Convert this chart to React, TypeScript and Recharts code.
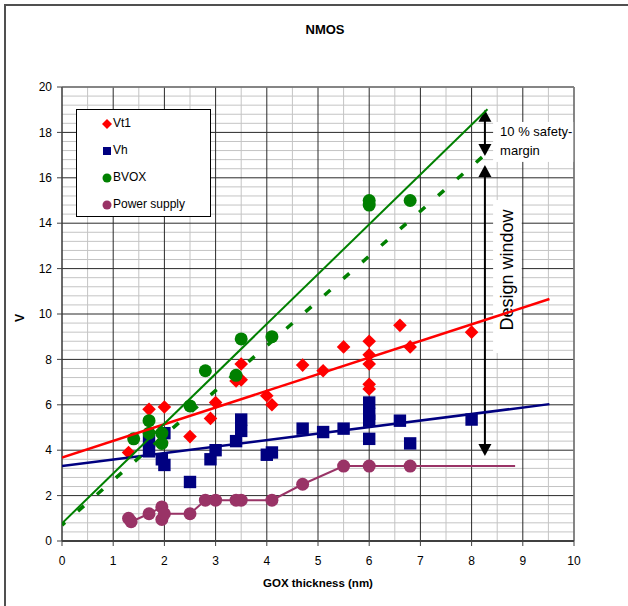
import React from 'react';
import {
  ComposedChart,
  Scatter,
  XAxis,
  YAxis,
  CartesianGrid,
  ReferenceArea,
  ReferenceLine,
  Legend,
} from 'recharts';

const FONT = '"Liberation Sans", Arial, Helvetica, sans-serif';

// ---------- tick labels ----------
const xTicks = [0, 1, 2, 3, 4, 5, 6, 7, 8, 9, 10];
const yTicks = [0, 2, 4, 6, 8, 10, 12, 14, 16, 18, 20];
const xMinor = [0.5, 1.5, 2.5, 3.5, 4.5, 5.5, 6.5, 7.5, 8.5, 9.5];
const yMinor = Array.from({ length: 50 }, (_, i) => +(i * 0.4).toFixed(1)).filter(
  (v) => Math.abs(v / 2 - Math.round(v / 2)) > 1e-6
);

// ---------- series ----------
const vt1 = [
  { x: 1.3, y: 3.9 }, { x: 1.7, y: 5.8 }, { x: 2.0, y: 5.9 }, { x: 1.95, y: 4.35 },
  { x: 2.5, y: 4.6 }, { x: 2.9, y: 5.4 }, { x: 3.0, y: 6.1 }, { x: 3.4, y: 7.05 },
  { x: 3.5, y: 7.1 }, { x: 3.5, y: 7.8 }, { x: 4.0, y: 6.4 }, { x: 4.1, y: 6.0 },
  { x: 4.7, y: 7.75 }, { x: 5.1, y: 7.5 }, { x: 5.5, y: 8.55 }, { x: 6.0, y: 8.8 },
  { x: 6.0, y: 8.2 }, { x: 6.0, y: 7.8 }, { x: 6.0, y: 6.9 }, { x: 6.0, y: 6.7 },
  { x: 6.6, y: 9.5 }, { x: 6.8, y: 8.55 }, { x: 8.0, y: 9.2 },
];

const vh = [
  { x: 1.7, y: 3.95 }, { x: 1.7, y: 4.4 }, { x: 2.0, y: 4.75 }, { x: 1.95, y: 3.6 },
  { x: 2.0, y: 3.35 }, { x: 2.5, y: 2.6 }, { x: 2.9, y: 3.6 }, { x: 3.0, y: 4.0 },
  { x: 3.4, y: 4.4 }, { x: 3.5, y: 5.35 }, { x: 3.5, y: 4.85 }, { x: 4.0, y: 3.8 },
  { x: 4.1, y: 3.9 }, { x: 4.7, y: 4.95 }, { x: 5.1, y: 4.8 }, { x: 5.5, y: 4.95 },
  { x: 6.0, y: 6.1 }, { x: 6.0, y: 5.6 }, { x: 6.0, y: 5.3 }, { x: 6.0, y: 4.5 },
  { x: 6.6, y: 5.3 }, { x: 6.8, y: 4.3 }, { x: 8.0, y: 5.35 },
];

const bvox = [
  { x: 1.4, y: 4.5 }, { x: 1.7, y: 5.3 }, { x: 1.7, y: 4.75 }, { x: 1.95, y: 4.75 },
  { x: 1.95, y: 4.3 }, { x: 2.5, y: 5.95 }, { x: 2.8, y: 7.5 }, { x: 3.4, y: 7.3 },
  { x: 3.5, y: 8.9 }, { x: 4.1, y: 9.0 }, { x: 6.0, y: 14.8 }, { x: 6.0, y: 15.0 },
  { x: 6.8, y: 15.0 },
];

const powerSupply = [
  { x: 1.3, y: 1.0 }, { x: 1.35, y: 0.85 }, { x: 1.7, y: 1.2 }, { x: 1.95, y: 1.5 },
  { x: 1.95, y: 0.95 }, { x: 2.0, y: 1.2 }, { x: 2.5, y: 1.2 }, { x: 2.8, y: 1.8 },
  { x: 3.0, y: 1.8 }, { x: 3.4, y: 1.8 }, { x: 3.5, y: 1.8 }, { x: 4.1, y: 1.8 },
  { x: 4.7, y: 2.5 }, { x: 5.5, y: 3.3 }, { x: 6.0, y: 3.3 }, { x: 6.8, y: 3.3 },
  { x: 8.85, y: 3.3, noMarker: true },
];

// ---------- trend lines ----------
const vt1Trend = [{ x: 0, y: 3.68 }, { x: 9.52, y: 10.66 }];
const vhTrend = [{ x: 0, y: 3.3 }, { x: 9.52, y: 6.03 }];
const bvoxTrend = [{ x: 0, y: 0.78 }, { x: 8.31, y: 19.02 }];
const bvoxMargin = [{ x: 0, y: 0.7 }, { x: 8.23, y: 16.96 }];

// ---------- annotations ----------
const arrowX = 8.26;
const safetyArrow = [{ x: arrowX, y: 19.0 }, { x: arrowX, y: 16.96 }];
const designArrow = [{ x: arrowX, y: 16.56 }, { x: arrowX, y: 3.74 }];
const safetyBox = { x1: 8.42, x2: 10, y1: 16.7, y2: 18.46 };
const designBox = { x1: 8.42, x2: 8.98, y1: 8.28, y2: 15.02 };
const safetyText = ['10 % safety-', 'margin'];
const designText = 'Design window';

const RED = '#FF0000';
const NAVY = '#000080';
const GREEN = '#008000';
const PLUM = '#993366';

const Diamond = (p: any) => {
  const { cx, cy } = p;
  if (cx == null || cy == null) return <g />;
  const r = 6.8;
  return <polygon points={`${cx},${cy - r} ${cx + r},${cy} ${cx},${cy + r} ${cx - r},${cy}`} fill={RED} />;
};
const Square = (p: any) => {
  const { cx, cy } = p;
  if (cx == null || cy == null) return <g />;
  const s = 6.2;
  return <rect x={cx - s} y={cy - s} width={2 * s} height={2 * s} fill={NAVY} />;
};
const makeCircle = (color: string) => (p: any) => {
  const { cx, cy, payload } = p;
  if (cx == null || cy == null || (payload && payload.noMarker)) return <g />;
  return <circle cx={cx} cy={cy} r={6.5} fill={color} />;
};
const NoShape = () => <g />;

const ArrowShape = (p: any) => {
  const { x1, y1, y2 } = p;
  if (x1 == null) return <g />;
  const top = Math.min(y1, y2);
  const bot = Math.max(y1, y2);
  const h = 12;
  const w = 6.5;
  return (
    <g>
      <line x1={x1} y1={top + h - 2} x2={x1} y2={bot - h + 2} stroke="#000" strokeWidth={2} />
      <polygon points={`${x1},${top} ${x1 - w},${top + h} ${x1 + w},${top + h}`} fill="#000" />
      <polygon points={`${x1},${bot} ${x1 - w},${bot - h} ${x1 + w},${bot - h}`} fill="#000" />
    </g>
  );
};

const SafetyShape = (p: any) => {
  const { x, y, width, height } = p;
  if (x == null) return <g />;
  return (
    <g>
      <rect x={x} y={y} width={width} height={height} fill="#fff" />
      <text x={x + 7} y={y + 14.5} fontSize={13} fontFamily={FONT} fill="#000">{safetyText[0]}</text>
      <text x={x + 7} y={y + 33.5} fontSize={13} fontFamily={FONT} fill="#000">{safetyText[1]}</text>
    </g>
  );
};

const DesignShape = (p: any) => {
  const { x, y, width, height } = p;
  if (x == null) return <g />;
  const cx = x + width / 2;
  const cy = y + 70;
  return (
    <g>
      <rect x={x} y={y} width={width} height={height} fill="#fff" />
      <text
        x={cx}
        y={cy}
        fontSize={18}
        fontFamily={FONT}
        fill="#000"
        textAnchor="middle"
        dominantBaseline="central"
        transform={`rotate(-90, ${cx}, ${cy})`}
      >
        {designText}
      </text>
    </g>
  );
};

const legendItems = [
  { name: 'Vt1', kind: 'diamond', color: RED },
  { name: 'Vh', kind: 'square', color: NAVY },
  { name: 'BVOX', kind: 'circle', color: GREEN },
  { name: 'Power supply', kind: 'circle', color: PLUM },
];

const LegendBox = () => (
  <div
    style={{
      width: 135,
      height: 108,
      boxSizing: 'border-box',
      border: '1px solid #000',
      background: '#fff',
      fontFamily: FONT,
      fontSize: 12,
      color: '#000',
    }}
  >
    {legendItems.map((it) => (
      <div key={it.name} style={{ height: 27, display: 'flex', alignItems: 'center', position: 'relative' }}>
        <svg width={10} height={10} style={{ position: 'absolute', left: 25, top: 8.5 }}>
          {it.kind === 'diamond' && <polygon points="5,0 10,5 5,10 0,5" fill={it.color} />}
          {it.kind === 'square' && <rect x={1} y={1} width={8} height={8} fill={it.color} />}
          {it.kind === 'circle' && <circle cx={5} cy={5} r={4.5} fill={it.color} />}
        </svg>
        <span style={{ position: 'absolute', left: 36, top: 6, lineHeight: '14px' }}>{it.name}</span>
      </div>
    ))}
  </div>
);

export default function App() {
  return (
    <div style={{ position: 'absolute', left: 0, top: 0, width: 628, height: 606, overflow: 'hidden', background: '#fff' }}>
      <div
        style={{
          position: 'absolute',
          left: 4,
          top: 4,
          width: 700,
          height: 700,
          border: '2px solid #505050',
        }}
      />
      <div
        style={{
          position: 'absolute',
          left: 225,
          top: 22,
          width: 200,
          textAlign: 'center',
          fontFamily: FONT,
          fontWeight: 'bold',
          fontSize: 13,
          lineHeight: '15px',
        }}
      >
        NMOS
      </div>
      <div
        style={{
          position: 'absolute',
          left: 218,
          top: 576,
          width: 200,
          textAlign: 'center',
          fontFamily: FONT,
          fontWeight: 'bold',
          fontSize: 11.5,
          lineHeight: '14px',
        }}
      >
        GOX thickness (nm)
      </div>
      <div
        style={{
          position: 'absolute',
          left: 10,
          top: 311,
          width: 20,
          textAlign: 'center',
          fontFamily: FONT,
          fontWeight: 'bold',
          fontSize: 12,
          lineHeight: '14px',
          transform: 'rotate(-90deg)',
        }}
      >
        V
      </div>
      <div style={{ position: 'absolute', left: 0, top: 0 }}>
        <ComposedChart width={628} height={606} margin={{ top: 87, right: 54, bottom: 25, left: 0 }}>
          <CartesianGrid
            horizontalValues={yMinor}
            verticalValues={xMinor}
            stroke="#c4c4c4"
            strokeWidth={1}
          />
          <CartesianGrid horizontalValues={yTicks} verticalValues={xTicks} stroke="#2a2a2a" strokeWidth={1} />
          <XAxis
            type="number"
            dataKey="x"
            domain={[0, 10]}
            ticks={xTicks}
            interval={0}
            height={40}
            tickSize={5}
            tickMargin={10}
            axisLine={{ stroke: '#404040', strokeWidth: 2 }}
            tickLine={{ stroke: '#404040' }}
            tick={{ fontSize: 12, fill: '#000', fontFamily: FONT }}
            allowDataOverflow
          />
          <YAxis
            type="number"
            dataKey="y"
            domain={[0, 20]}
            ticks={yTicks}
            interval={0}
            width={62}
            tickSize={5}
            tickMargin={5}
            axisLine={{ stroke: '#404040', strokeWidth: 1 }}
            tickLine={{ stroke: '#404040' }}
            tick={{ fontSize: 12, fill: '#000', fontFamily: FONT }}
            allowDataOverflow
          />
          <ReferenceLine y={20} stroke="#808080" strokeWidth={1.5} />
          <ReferenceLine x={10} stroke="#808080" strokeWidth={1.5} />

          <Scatter name="Vt1" data={vt1} shape={Diamond} isAnimationActive={false} />
          <Scatter name="Vh" data={vh} shape={Square} isAnimationActive={false} />
          <Scatter name="BVOX" data={bvox} shape={makeCircle(GREEN)} isAnimationActive={false} />
          <Scatter
            name="Power supply"
            data={powerSupply}
            shape={makeCircle(PLUM)}
            line={{ stroke: PLUM, strokeWidth: 2 }}
            isAnimationActive={false}
          />

          <Scatter name="Vt1 trend" data={vt1Trend} shape={NoShape} line={{ stroke: RED, strokeWidth: 2.5 }} isAnimationActive={false} legendType="none" />
          <Scatter name="Vh trend" data={vhTrend} shape={NoShape} line={{ stroke: NAVY, strokeWidth: 2.5 }} isAnimationActive={false} legendType="none" />
          <Scatter name="BVOX trend" data={bvoxTrend} shape={NoShape} line={{ stroke: GREEN, strokeWidth: 2 }} isAnimationActive={false} legendType="none" />
          <Scatter
            name="BVOX -10%"
            data={bvoxMargin}
            shape={NoShape}
            line={{ stroke: GREEN, strokeWidth: 3.5, strokeDasharray: '8 17.2', strokeDashoffset: 4 }}
            isAnimationActive={false}
            legendType="none"
          />

          <ReferenceArea {...safetyBox} shape={SafetyShape} />
          <ReferenceArea {...designBox} shape={DesignShape} />
          <ReferenceLine segment={safetyArrow} shape={ArrowShape} />
          <ReferenceLine segment={designArrow} shape={ArrowShape} />

          <Legend
            layout="vertical"
            align="center"
            verticalAlign="middle"
            wrapperStyle={{ position: 'absolute', left: 76, top: 109, width: 135, height: 108 }}
            content={() => <LegendBox />}
          />
        </ComposedChart>
      </div>
    </div>
  );
}
